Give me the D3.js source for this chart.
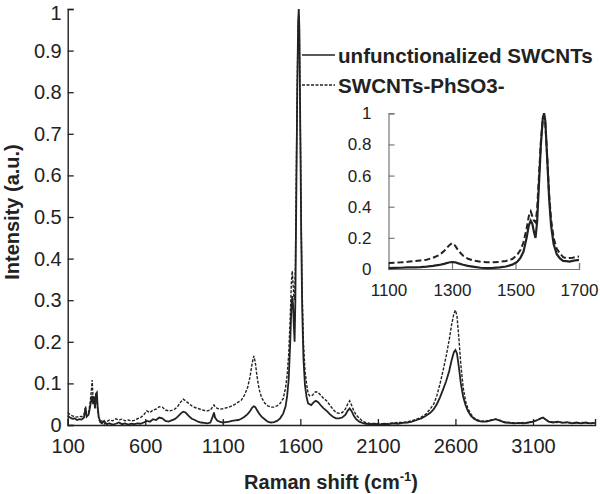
<!DOCTYPE html>
<html><head><meta charset="utf-8">
<script src="https://cdn.jsdelivr.net/npm/d3@7/dist/d3.min.js"></script>
<style>body{margin:0;background:#fff}svg{display:block}text{font-family:Arial,"Liberation Sans",sans-serif;fill:#222}</style>
</head><body><svg id="c" width="600" height="494"></svg>
<script>
const wavenumber = [100,115,130,145,160,175,190,205,215,222,235,245,252,258,264,270,276,282,288,294,300,310,320,335,350,370,390,410,430,450,470,490,510,530,550,570,590,610,630,650,670,690,710,730,750,770,790,810,830,845,860,880,900,920,940,960,980,1000,1020,1035,1043,1050,1065,1080,1100,1120,1140,1160,1180,1200,1220,1240,1260,1275,1290,1300,1310,1320,1335,1350,1370,1390,1410,1430,1450,1470,1490,1505,1515,1525,1535,1542,1548,1553,1558,1563,1568,1574,1580,1586,1590,1594,1600,1606,1612,1620,1630,1640,1650,1660,1670,1680,1690,1700,1715,1730,1750,1770,1790,1810,1830,1850,1870,1890,1905,1918,1930,1945,1960,1980,2000,2020,2050,2080,2110,2140,2170,2200,2230,2260,2290,2320,2350,2380,2410,2440,2460,2480,2500,2520,2540,2560,2575,2590,2600,2610,2622,2635,2650,2665,2680,2700,2720,2745,2770,2800,2830,2860,2890,2920,2950,2980,3010,3040,3070,3100,3130,3150,3165,3180,3200,3230,3260,3290,3320,3350,3380,3410,3440,3470,3500];
const unfunctionalized = [0.022,0.018,0.015,0.016,0.012,0.014,0.013,0.018,0.040,0.020,0.025,0.045,0.060,0.070,0.050,0.068,0.040,0.075,0.078,0.040,0.020,0.008,0.004,0.010,0.002,0.004,0.001,0.003,0.006,0.002,0.004,0.001,0.003,0.002,0.004,0.003,0.006,0.010,0.008,0.014,0.012,0.018,0.016,0.010,0.008,0.011,0.014,0.020,0.028,0.032,0.030,0.022,0.015,0.012,0.008,0.006,0.005,0.004,0.006,0.020,0.030,0.018,0.010,0.008,0.006,0.007,0.008,0.010,0.011,0.012,0.015,0.020,0.026,0.033,0.042,0.045,0.043,0.036,0.027,0.020,0.014,0.008,0.006,0.007,0.010,0.016,0.028,0.045,0.070,0.110,0.200,0.280,0.310,0.290,0.240,0.200,0.300,0.550,0.800,0.970,1.000,0.950,0.700,0.450,0.280,0.160,0.095,0.068,0.052,0.050,0.048,0.052,0.056,0.058,0.055,0.048,0.040,0.034,0.026,0.020,0.016,0.016,0.018,0.024,0.034,0.040,0.034,0.022,0.014,0.008,0.005,0.003,0.002,0.003,0.001,0.003,0.002,0.004,0.003,0.005,0.006,0.008,0.012,0.016,0.022,0.030,0.038,0.050,0.066,0.085,0.105,0.130,0.155,0.175,0.180,0.172,0.140,0.100,0.068,0.048,0.034,0.022,0.015,0.010,0.008,0.008,0.011,0.014,0.010,0.006,0.005,0.004,0.005,0.004,0.006,0.008,0.012,0.016,0.018,0.014,0.008,0.006,0.008,0.005,0.007,0.004,0.006,0.004,0.006,0.004,0.005];
const phso3 = [0.030,0.025,0.022,0.020,0.019,0.021,0.020,0.024,0.045,0.028,0.030,0.055,0.080,0.108,0.060,0.070,0.050,0.060,0.055,0.035,0.015,0.006,0.010,0.002,0.008,0.012,0.010,0.015,0.012,0.014,0.010,0.012,0.010,0.011,0.015,0.018,0.024,0.034,0.030,0.036,0.038,0.044,0.043,0.036,0.034,0.035,0.038,0.045,0.056,0.062,0.058,0.052,0.046,0.042,0.040,0.037,0.035,0.034,0.036,0.044,0.048,0.044,0.040,0.038,0.039,0.041,0.043,0.046,0.050,0.055,0.060,0.072,0.090,0.115,0.150,0.166,0.150,0.118,0.085,0.066,0.053,0.046,0.043,0.043,0.046,0.052,0.064,0.090,0.120,0.170,0.260,0.340,0.370,0.340,0.310,0.300,0.380,0.600,0.820,0.960,0.985,0.930,0.720,0.480,0.320,0.200,0.130,0.100,0.076,0.070,0.070,0.072,0.078,0.080,0.078,0.072,0.064,0.058,0.048,0.038,0.030,0.028,0.030,0.038,0.050,0.058,0.048,0.034,0.024,0.016,0.010,0.006,0.004,0.003,0.004,0.002,0.004,0.005,0.006,0.006,0.008,0.010,0.014,0.019,0.026,0.040,0.050,0.070,0.098,0.130,0.165,0.205,0.240,0.268,0.276,0.262,0.210,0.145,0.090,0.058,0.040,0.026,0.017,0.012,0.009,0.010,0.012,0.014,0.011,0.007,0.006,0.005,0.004,0.006,0.005,0.008,0.012,0.016,0.017,0.014,0.009,0.007,0.006,0.007,0.005,0.006,0.004,0.006,0.005,0.004,0.005];
const yTicks = [0,0.1,0.2,0.3,0.4,0.5,0.6,0.7,0.8,0.9,1];
const xTicks = [100,600,1100,1600,2100,2600,3100];
const insetXTicks = [1100,1300,1500,1700];
const insetYTicks = [0,0.2,0.4,0.6,0.8,1];
const seriesNames = ["unfunctionalized SWCNTs","SWCNTs-PhSO3-"];

const svg = d3.select("#c");
const ink = "#222";
const x = d3.scaleLinear().domain([100,3500]).range([67.7,595]);
const y = d3.scaleLinear().domain([0,1]).range([425,9]);
const pts = vals => wavenumber.map((w,i)=>[w,vals[i]]);

// main axes
const gy = svg.append("g").attr("transform","translate(67.7,0)")
  .call(d3.axisRight(y).tickValues(yTicks).tickSize(6).tickFormat(d3.format("~g")));
gy.selectAll("text").attr("x",-6).attr("text-anchor","end").style("font-size","20px").attr("fill",ink)
  .attr("dy",d=>d===1?"0.5em":"0.32em");
const gx = svg.append("g").attr("transform","translate(0,425)")
  .call(d3.axisTop(x).tickValues(xTicks).tickSize(6).tickFormat(d3.format("d")));
gx.selectAll("text").attr("y",28).style("font-size","20px").attr("fill",ink);
[gx,gy].forEach(g=>{g.select(".domain").attr("stroke",ink).attr("stroke-width",1.4);g.selectAll(".tick line").attr("stroke",ink).attr("stroke-width",1.3);});

// main lines
const line = d3.line().x(d=>x(d[0])).y(d=>y(d[1]));
svg.append("path").datum(pts(phso3)).attr("d",line).attr("fill","none").attr("stroke",ink).attr("stroke-width",1.4).attr("stroke-dasharray","3,1.5");
svg.append("path").datum(pts(unfunctionalized)).attr("d",line).attr("fill","none").attr("stroke",ink).attr("stroke-width",1.8);

// axis titles
const xt = svg.append("text").attr("x",331).attr("y",489).attr("text-anchor","middle").style("font-size","20px").style("font-weight","bold").attr("fill",ink);
xt.append("tspan").text("Raman shift (cm");
xt.append("tspan").attr("dy",-8).style("font-size","13px").text("-1");
xt.append("tspan").attr("dy",8).text(")");
svg.append("text").attr("transform","translate(19,212) rotate(-90)").attr("text-anchor","middle").style("font-size","20px").style("font-weight","bold").attr("fill",ink).text("Intensity (a.u.)");

// legend
const leg = svg.append("g");
seriesNames.forEach((n,i)=>{
  const yy = 55 + i*30;
  leg.append("line").attr("x1",302).attr("x2",335).attr("y1",yy).attr("y2",yy).attr("stroke",ink)
    .attr("stroke-width",i?1.3:1.6).attr("stroke-dasharray",i?"3,1.5":null);
  leg.append("text").attr("x",338).attr("y",yy+7.5).style("font-size","20.6px").style("font-weight","bold").attr("fill",ink).text(n);
});

// inset
const ix = d3.scaleLinear().domain([1100,1700]).range([388.5,579]);
const iy = d3.scaleLinear().domain([0,1]).range([269,113.3]);
const gray = "#777";
const igy = svg.append("g").attr("transform","translate(388.5,0)")
  .call(d3.axisRight(iy).tickValues(insetYTicks).tickSize(6).tickFormat(d3.format("~g")));
igy.selectAll("text").attr("x",-17).attr("text-anchor","end").style("font-size","17px").attr("fill",ink);
const igx = svg.append("g").attr("transform","translate(0,269)")
  .call(d3.axisTop(ix).tickValues(insetXTicks).tickSize(6).tickFormat(d3.format("d")));
igx.selectAll("text").attr("y",27).style("font-size","17px").attr("fill",ink);
[igx,igy].forEach(g=>{g.select(".domain").attr("stroke",gray).attr("stroke-width",1.2);g.selectAll(".tick line").attr("stroke",gray).attr("stroke-width",1.2);});
svg.append("clipPath").attr("id","ic").append("rect").attr("x",388.5).attr("y",105).attr("width",190.5).attr("height",165);
const iline = d3.line().x(d=>ix(d[0])).y(d=>iy(d[1]));
const inIn = vals => pts(vals).filter(d=>d[0]>=1100&&d[0]<=1700);
svg.append("path").datum(inIn(phso3)).attr("clip-path","url(#ic)").attr("d",iline).attr("fill","none").attr("stroke",ink).attr("stroke-width",2).attr("stroke-dasharray","6,3");
svg.append("path").datum(inIn(unfunctionalized)).attr("clip-path","url(#ic)").attr("d",iline).attr("fill","none").attr("stroke",ink).attr("stroke-width",2.2);
</script></body></html>
